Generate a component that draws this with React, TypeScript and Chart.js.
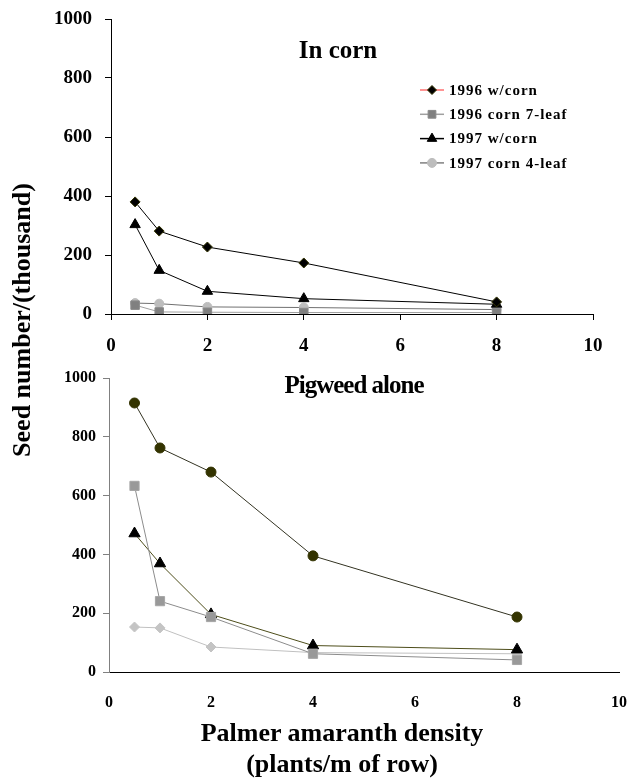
import React, { useEffect, useRef } from 'react';
import { Chart, registerables } from 'chart.js';

Chart.register(...registerables);

// ---------- data ----------
const densities = [0.5, 1, 2, 4, 8];
const xTickValues = [0, 2, 4, 6, 8, 10];
const yTickValues = [0, 200, 400, 600, 800, 1000];

const seriesLabels = ['1996 w/corn', '1996 corn 7-leaf', '1997 w/corn', '1997 corn 4-leaf'];

// Top panel: "In corn"
const cornTitle = 'In corn';
const inCorn1996WithCorn = [380, 281, 227, 173, 41];
const inCorn1996Corn7Leaf = [30, 7, 6, 5, 5];
const inCorn1997WithCorn = [303, 148, 77, 52, 33];
const inCorn1997Corn4Leaf = [37, 35, 24, 22, 15];

// Bottom panel: "Pigweed alone"
const aloneTitle = 'Pigweed alone';
const alone1996WithCorn = [915, 762, 680, 395, 187];
const alone1996Corn7Leaf = [633, 241, 187, 62, 41];
const alone1997WithCorn = [471, 369, 196, 90, 76];
const alone1997Corn4Leaf = [153, 150, 85, 66, 62];

const yTitle = 'Seed number/(thousand)';
const xTitleLine1 = 'Palmer amaranth density';
const xTitleLine2 = '(plants/m of row)';

const legendLineColors = ['#ff7070', '#a0a0a0', '#000000', '#808080'];

const SERIF = "'Liberation Serif', 'Times New Roman', serif";

const toPoints = (vals: number[]) => densities.map((x, i) => ({ x, y: vals[i] }));

function drawMarker(ctx: CanvasRenderingContext2D, style: string, x: number, y: number, r: number, fill: string, stroke: string) {
  ctx.beginPath();
  if (style === 'rectRot') {
    ctx.moveTo(x, y - r);
    ctx.lineTo(x + r, y);
    ctx.lineTo(x, y + r);
    ctx.lineTo(x - r, y);
    ctx.closePath();
  } else if (style === 'rect') {
    const s = Math.SQRT1_2 * r;
    ctx.rect(x - s, y - s, 2 * s, 2 * s);
  } else if (style === 'triangle') {
    ctx.moveTo(x, y - r);
    ctx.lineTo(x + r * 0.866, y + r * 0.5);
    ctx.lineTo(x - r * 0.866, y + r * 0.5);
    ctx.closePath();
  } else {
    ctx.arc(x, y, r, 0, Math.PI * 2);
  }
  ctx.fillStyle = fill;
  ctx.fill();
  ctx.lineWidth = 1;
  ctx.strokeStyle = stroke;
  ctx.stroke();
}

const cornLegendPlugin = {
  id: 'cornLegend',
  afterDraw(chart: any) {
    const ctx: CanvasRenderingContext2D = chart.ctx;
    const ds = chart.data.datasets;
    ctx.save();
    seriesLabels.forEach((label, i) => {
      const y = 90 + i * 24.3;
      const cx = 432;
      ctx.beginPath();
      ctx.strokeStyle = legendLineColors[i];
      ctx.lineWidth = 1.5;
      ctx.moveTo(420, y);
      ctx.lineTo(444, y);
      ctx.stroke();
      const d = ds[i];
      drawMarker(ctx, d.pointStyle, cx, y, d.legendRadius, d.pointBackgroundColor, d.pointBorderColor);
      ctx.font = `bold 15px ${SERIF}`;
      (ctx as any).letterSpacing = '1px';
      ctx.fillStyle = '#000';
      ctx.textBaseline = 'middle';
      ctx.textAlign = 'left';
      ctx.fillText(label, 449, y + 1);
      (ctx as any).letterSpacing = '0px';
    });
    ctx.restore();
  },
};

const zeroPadding = (s: any) => {
  s.paddingLeft = 0;
  s.paddingRight = 0;
  s.paddingTop = 0;
  s.paddingBottom = 0;
};

function makeScales(opts: {
  yWidth: number; xHeight: number; tickFont: number; yPad: number; xPad: number; xTickLen: number;
  yBorder: string; xTickColor: string;
}) {
  return {
    x: {
      type: 'linear' as const,
      min: 0,
      max: 10,
      afterBuildTicks: (s: any) => { s.ticks = xTickValues.map((v) => ({ value: v })); },
      afterFit: (s: any) => { s.height = opts.xHeight; zeroPadding(s); },
      ticks: {
        color: '#000',
        font: { family: SERIF, size: opts.tickFont, weight: 'bold' as const },
        padding: opts.xPad,
        maxRotation: 0,
        autoSkip: false,
        callback: (v: any) => String(v),
      },
      grid: { drawOnChartArea: false, drawTicks: true, tickLength: opts.xTickLen, color: opts.xTickColor },
      border: { color: '#000', width: 1 },
    },
    y: {
      type: 'linear' as const,
      min: 0,
      max: 1000,
      afterBuildTicks: (s: any) => { s.ticks = yTickValues.map((v) => ({ value: v })); },
      afterFit: (s: any) => { s.width = opts.yWidth; zeroPadding(s); },
      ticks: {
        color: '#000',
        font: { family: SERIF, size: opts.tickFont, weight: 'bold' as const },
        padding: opts.yPad,
        autoSkip: false,
        callback: (v: any) => String(v),
      },
      grid: { drawOnChartArea: false, drawTicks: true, tickLength: 6, color: opts.yBorder },
      border: { color: opts.yBorder, width: 1 },
    },
  };
}

function TopChart() {
  const ref = useRef<HTMLCanvasElement>(null);
  useEffect(() => {
    if (!ref.current) return;
    const chart = new Chart(ref.current, {
      type: 'line',
      data: {
        datasets: [
          {
            label: seriesLabels[0], data: toPoints(inCorn1996WithCorn),
            borderColor: '#000', borderWidth: 1,
            pointStyle: 'rectRot', pointRadius: 5, pointBackgroundColor: '#000', pointBorderColor: '#333300', pointBorderWidth: 1,
            legendRadius: 4.5,
          } as any,
          {
            label: seriesLabels[1], data: toPoints(inCorn1996Corn7Leaf),
            borderColor: '#a0a0a0', borderWidth: 1,
            pointStyle: 'rect', pointRadius: 6, pointBackgroundColor: '#808080', pointBorderColor: '#8a8a8a', pointBorderWidth: 1,
            legendRadius: 5.5,
          } as any,
          {
            label: seriesLabels[2], data: toPoints(inCorn1997WithCorn),
            borderColor: '#000', borderWidth: 1,
            pointStyle: 'triangle', pointRadius: 6, pointBackgroundColor: '#000', pointBorderColor: '#000', pointBorderWidth: 1,
            legendRadius: 5.5,
          } as any,
          {
            label: seriesLabels[3], data: toPoints(inCorn1997Corn4Leaf),
            borderColor: '#707070', borderWidth: 1,
            pointStyle: 'circle', pointRadius: 4.5, pointBackgroundColor: '#bdbdbd', pointBorderColor: '#bdbdbd', pointBorderWidth: 1,
            legendRadius: 4.5,
          } as any,
        ],
      },
      options: {
        responsive: false,
        animation: false,
        devicePixelRatio: 1,
        layout: { padding: { top: 19, right: 38, left: 0, bottom: 0 } },
        plugins: { legend: { display: false }, tooltip: { enabled: false }, title: { display: false } },
        scales: makeScales({ yWidth: 111, xHeight: 46, tickFont: 19, yPad: 13, xPad: 15, xTickLen: 6, yBorder: '#000', xTickColor: '#000' }) as any,
      },
      plugins: [cornLegendPlugin],
    });
    return () => chart.destroy();
  }, []);
  return <canvas ref={ref} width={631} height={360} style={{ position: 'absolute', left: 0, top: 0, width: 631, height: 360 }} />;
}

function BottomChart() {
  const ref = useRef<HTMLCanvasElement>(null);
  useEffect(() => {
    if (!ref.current) return;
    const chart = new Chart(ref.current, {
      type: 'line',
      data: {
        datasets: [
          {
            label: seriesLabels[0], data: toPoints(alone1996WithCorn),
            borderColor: '#333322', borderWidth: 1,
            pointStyle: 'circle', pointRadius: 5, pointBackgroundColor: '#333300', pointBorderColor: '#333300', pointBorderWidth: 1,
          },
          {
            label: seriesLabels[1], data: toPoints(alone1996Corn7Leaf),
            borderColor: '#8c8c8c', borderWidth: 1,
            pointStyle: 'rect', pointRadius: 6.5, pointBackgroundColor: '#999999', pointBorderColor: '#a6a6a6', pointBorderWidth: 1,
          },
          {
            label: seriesLabels[2], data: toPoints(alone1997WithCorn),
            borderColor: '#4d4d1a', borderWidth: 1,
            pointStyle: 'triangle', pointRadius: 6.5, pointBackgroundColor: '#000', pointBorderColor: '#000', pointBorderWidth: 1,
          },
          {
            label: seriesLabels[3], data: toPoints(alone1997Corn4Leaf),
            borderColor: '#c0c0c0', borderWidth: 1,
            pointStyle: 'rectRot', pointRadius: 5, pointBackgroundColor: '#c4c4c4', pointBorderColor: '#c4c4c4', pointBorderWidth: 1,
          },
        ],
      },
      options: {
        responsive: false,
        animation: false,
        devicePixelRatio: 1,
        layout: { padding: { top: 23, right: 12, left: 0, bottom: 0 } },
        plugins: { legend: { display: false }, tooltip: { enabled: false }, title: { display: false } },
        scales: makeScales({ yWidth: 109, xHeight: 43, tickFont: 16, yPad: 7, xPad: 2, xTickLen: 19, yBorder: '#808080', xTickColor: 'rgba(0,0,0,0)' }) as any,
      },
    });
    return () => chart.destroy();
  }, []);
  return <canvas ref={ref} width={631} height={360} style={{ position: 'absolute', left: 0, top: 355, width: 631, height: 360 }} />;
}

const textBase: React.CSSProperties = {
  position: 'absolute',
  fontFamily: SERIF,
  fontWeight: 'bold',
  color: '#000',
  whiteSpace: 'nowrap',
  textAlign: 'center',
  width: 600,
};

export default function App() {
  return (
    <div style={{ position: 'absolute', left: 0, top: 0, width: 631, height: 783, background: '#fff', overflow: 'hidden' }}>
      <TopChart />
      <BottomChart />
      <div style={{ ...textBase, left: 338 - 300, top: 36.5, fontSize: 25, lineHeight: '25px' }}>{cornTitle}</div>
      <div style={{ ...textBase, left: 354 - 300, top: 371.5, fontSize: 25, lineHeight: '25px', letterSpacing: '-1px' }}>{aloneTitle}</div>
      <div style={{ ...textBase, left: 22 - 300, top: 320 - 13, fontSize: 26, lineHeight: '26px', transform: 'rotate(-90deg)' }}>{yTitle}</div>
      <div style={{ ...textBase, left: 342 - 300, top: 719.5, fontSize: 26, lineHeight: '26px' }}>{xTitleLine1}</div>
      <div style={{ ...textBase, left: 342 - 300, top: 751, fontSize: 26, lineHeight: '26px' }}>{xTitleLine2}</div>
    </div>
  );
}
